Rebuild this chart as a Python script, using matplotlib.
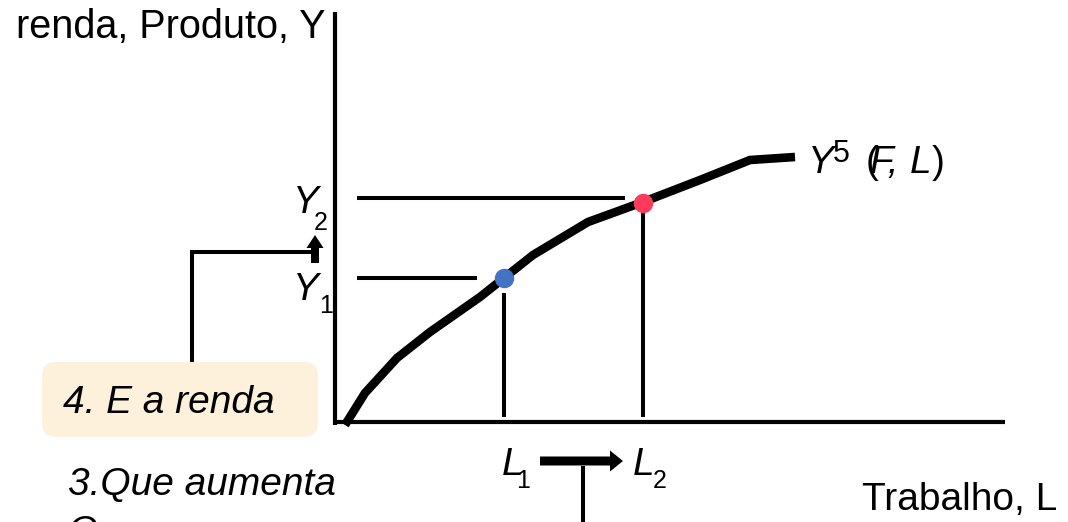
import matplotlib
matplotlib.use('Agg')
import matplotlib.pyplot as plt
from matplotlib.patches import FancyBboxPatch, FancyArrow

plt.rcParams['font.family'] = ['Liberation Sans', 'DejaVu Sans']

# production function Y = F(K, L) (origin at the axes corner)
labor = [10, 30, 62, 95, 145, 198, 253, 308, 365, 415, 460]
output = [-3, 29, 64, 90, 125, 167, 200, 220, 242, 262, 265]

# the two labour / income points
L1, Y1 = 169, 144
L2, Y2 = 308, 219

curve_label = 'F, L'
x_label = 'Trabalho, L'
y_label = 'renda, Produto, Y'
step3 = '3.Que aumenta'
step4 = '4. E a renda'

fig = plt.figure(figsize=(10.68, 5.22), dpi=100)
ax = fig.add_axes([0, 0, 1, 1])
ax.set_xlim(-335, 733)
ax.set_ylim(-100, 422)
ax.axis('off')

# axes of the diagram
ax.plot([0, 0], [-3, 410], color='black', lw=3, solid_capstyle='butt')
ax.plot([0, 670], [0, 0], color='black', lw=3, solid_capstyle='butt')

# production curve
ax.plot(labor, output, color='black', lw=6.2, solid_capstyle='butt', solid_joinstyle='miter')

# guide lines
ax.plot([22, L2 - 18], [Y2 + 5, Y2 + 5], color='black', lw=2.9, solid_capstyle='butt')
ax.plot([22, L1 - 27], [Y1, Y1], color='black', lw=2.9, solid_capstyle='butt')
ax.plot([L1, L1], [Y1 - 15, 5], color='black', lw=2.9, solid_capstyle='butt')
ax.plot([L2, L2], [Y2 - 9, 5], color='black', lw=2.9, solid_capstyle='butt')

ax.plot([L1], [Y1], 'o', color='#4472C4', ms=13, zorder=5)
ax.plot([L2], [Y2], 'o', color='#FF3B5C', ms=13, zorder=5)

# axis titles
ax.text(-10, 384, y_label, fontsize=28.5, ha='right', va='baseline')
ax.text(527, -88, x_label, fontsize=28, ha='left', va='baseline')

# Y1 / Y2 labels
ax.text(-42, 209, 'Y', fontsize=28, style='italic', va='baseline')
ax.text(-21, 192, '2', fontsize=18, va='baseline')
ax.text(-42, 122, 'Y', fontsize=28, style='italic', va='baseline')
ax.text(-16, 109, '1', fontsize=18, va='baseline')

# L1 / L2 labels
ax.text(167, -53, 'L', fontsize=28, style='italic', va='baseline')
ax.text(181, -66, '1', fontsize=18, va='baseline')
ax.text(298, -53, 'L', fontsize=28, style='italic', va='baseline')
ax.text(318, -66, '2', fontsize=18, va='baseline')

# curve label Y5 (F, L)
ax.text(473, 249, 'Y', fontsize=28, style='italic', va='baseline')
ax.text(498, 260, '5', fontsize=22, va='baseline')
ax.text(531, 249, '(', fontsize=28, va='baseline')
ax.text(535, 249, curve_label.split(' ')[0], fontsize=28, style='italic', va='baseline')
ax.text(575, 249, curve_label.split(' ')[1], fontsize=28, style='italic', va='baseline')
ax.text(597, 249, ')', fontsize=28, va='baseline')

# arrows
ax.add_patch(FancyArrow(205, -39, 83, 0, width=9, head_width=21, head_length=13,
                        length_includes_head=True, color='black', lw=0))
ax.plot([248, 248], [-44, -110], color='black', lw=2.9, solid_capstyle='butt', clip_on=False)
ax.add_patch(FancyArrow(-20, 159, 0, 28, width=8, head_width=17, head_length=13,
                        length_includes_head=True, color='black', lw=0))
ax.plot([-143, -143, -20], [62, 170, 170], color='black', lw=2.9, solid_joinstyle='miter')

# step boxes
box = FancyBboxPatch((-293 + 14, -15 + 14), 276 - 28, 75 - 28,
                     boxstyle='round,pad=14', fc='#FDF1DC', ec='none', zorder=1)
ax.add_patch(box)
ax.text(-272, 9, step4, fontsize=28, style='italic', va='baseline', zorder=2)
ax.text(-267, -73, step3, fontsize=28, style='italic', va='baseline')
ax.text(-267, -121, 'O', fontsize=28, style='italic', va='baseline')

fig.savefig('out.png', dpi=100)
